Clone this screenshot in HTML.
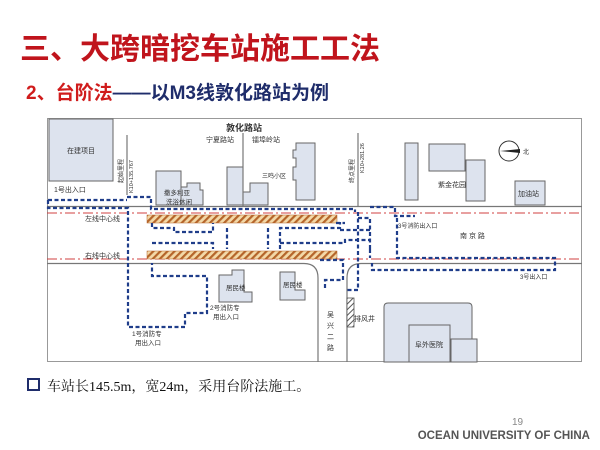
<!DOCTYPE html>
<html><head><meta charset="utf-8"><style>
body{margin:0;background:#fff;width:600px;height:450px;overflow:hidden;position:relative;font-family:"Liberation Sans","Noto Sans CJK SC",sans-serif}
.t1{position:absolute;left:20px;top:24px;font-size:30px;font-weight:bold;color:#c0141c;white-space:nowrap}
.t2{position:absolute;left:26px;top:78px;font-size:19px;font-weight:bold;color:#1f2d6b;white-space:nowrap}
.t2 span{color:#d01c1c}
.b{position:absolute;left:27px;top:376px;font-size:14px;color:#111;font-family:"Liberation Serif","Noto Serif CJK SC",serif;white-space:nowrap}
.b i{display:inline-block;width:9px;height:9px;border:2px solid #1f2d6b;margin-right:7px;vertical-align:0px}
.pg{position:absolute;left:512px;top:417px;font-size:10px;color:#888}
.ou{position:absolute;right:10px;top:430px;font-size:11.5px;font-weight:bold;color:#555;white-space:nowrap}
svg{position:absolute;left:0;top:0}
svg text{font-family:"Liberation Sans","Noto Sans CJK SC",sans-serif;fill:#333}
</style></head><body>
<div class="t1">三、大跨暗挖车站施工工法</div>
<div class="t2"><span>2、台阶法</span>——以M3线敦化路站为例</div>
<svg width="600" height="450" viewBox="0 0 600 450">
<defs><pattern id="h" width="5" height="5" patternUnits="userSpaceOnUse" patternTransform="rotate(45)"><rect width="5" height="5" fill="#f3d9a8"/><rect width="2.2" height="5" fill="#b5652a"/></pattern>
<pattern id="h2" width="4" height="4" patternUnits="userSpaceOnUse" patternTransform="rotate(45)"><rect width="4" height="4" fill="#fff"/><rect width="1" height="4" fill="#555"/></pattern></defs>
<rect x="47.5" y="118.5" width="534" height="243" fill="#fff" stroke="#999" stroke-width="1"/>
<g fill="#dde3ee" stroke="#666" stroke-width="1">
<rect x="49" y="119" width="64" height="62"/>
<rect x="156" y="171" width="25" height="34"/>
<path d="M181,187 H187 V183 H200 V190 H203 V205 H181Z"/>
<rect x="227" y="167" width="16" height="38"/>
<path d="M243,192 H250 V183 H268 V205 H243Z"/>
<path d="M296,143 H315 V200 H296 V180 H293 V167 H296 V158 H293 V150 H296Z"/>
<rect x="405" y="143" width="13" height="57"/>
<rect x="429" y="144" width="36" height="27"/>
<rect x="466" y="160" width="19" height="41"/>
<rect x="515" y="181" width="30" height="24"/>
<path d="M219,275 H232 V270 H244 V292 H252 V302 H219Z"/>
<path d="M280,272 H295 V290 H305 V300 H280Z"/>
<path d="M388,303 H468 Q472,303 472,307 V362 H384 V307 Q384,303 388,303Z"/>
<rect x="409" y="325" width="41" height="37"/>
<rect x="451" y="339" width="26" height="23"/>
</g>
<g stroke="#777" stroke-width="1.2" fill="none">
<path d="M47,206.5 H582 M47,263.5 H304 Q318,263.5 318,278 V362 M347,362 V278 Q347,263.5 361,263.5 H582"/>
<path d="M127,135 V195 M243,133 V207 M358,133 V207"/>
</g>
<g stroke="#d04040" stroke-width="1" stroke-dasharray="10,3,2,3" fill="none">
<path d="M47,213 H582 M47,259 H582"/>
</g>
<rect x="147" y="215" width="190" height="8" fill="url(#h)" stroke="#b5652a" stroke-width="0.5"/>
<rect x="147" y="251" width="190" height="8" fill="url(#h)" stroke="#b5652a" stroke-width="0.5"/>
<rect x="347" y="298" width="7" height="29" fill="url(#h2)" stroke="#555" stroke-width="0.8"/>
<g stroke="#1f3d8a" stroke-width="2.2" stroke-dasharray="4,2.5" fill="none">
<path d="M48,200 H127 M127,197 H151 V209 H355 V212 M48,200 V208 H128 V327 H185 V313 H207 V276 H152 V263"/>
<path d="M152,223 V228 H174 V232 H213 V223"/>
<path d="M227,228 V249 M268,228 V249 M152,243 H213 V249 M280,243 H345 V240 H370"/>
<path d="M280,249 V228 H340 V222 M340,230 H370 M336,223 H345"/>
<path d="M358,212 V290 H345 M358,218 H370 V249"/>
<path d="M370,207 H395 V216 H415 M397,218 V258 H555 V270 H372 V263 M370,249 V258"/>
<path d="M320,260 H343 V280 H325 V290"/>
</g>
<circle cx="509" cy="151" r="10" fill="#fff" stroke="#333" stroke-width="1"/>
<path d="M500,151 L520,149 L520,153Z" fill="#222"/>
<g font-size="7">
<text x="67" y="153">在建项目</text>
<text x="54" y="192">1号出入口</text>
<text x="85" y="221">左线中心线</text>
<text x="85" y="258">右线中心线</text>
<text x="164" y="195" font-size="6.5">撒多利亚</text>
<text x="166" y="204" font-size="6.5">洗浴休闲</text>
<text x="226" y="131" font-size="9" font-weight="bold" fill="#222">敦化路站</text>
<text x="206" y="142">宁夏路站</text>
<text x="252" y="142">镭埠岭站</text>
<text x="262" y="178" font-size="6">三鸣小区</text>
<text x="438" y="187">紫金花园</text>
<text x="518" y="196">加油站</text>
<text x="523" y="154" font-size="6">北</text>
<text x="398" y="228" font-size="6">3号消防出入口</text>
<text x="460" y="238">南 京 路</text>
<text x="520" y="279" font-size="6">3号出入口</text>
<text x="226" y="290" font-size="6.5">居民楼</text>
<text x="283" y="287" font-size="6.5">居民楼</text>
<text x="210" y="310" font-size="6.5">2号消防专</text>
<text x="213" y="319" font-size="6.5">用出入口</text>
<text x="132" y="336" font-size="6.5">1号消防专</text>
<text x="135" y="345" font-size="6.5">用出入口</text>
<text x="354" y="321">排风井</text>
<text x="415" y="347">阜外医院</text>
<text x="327" y="317">吴</text><text x="327" y="328">兴</text><text x="327" y="339">二</text><text x="327" y="350">路</text>
<text transform="translate(123,183) rotate(-90)" font-size="6">起始里程</text>
<text transform="translate(133,193) rotate(-90)" font-size="5.5">K10+135.767</text>
<text transform="translate(354,183) rotate(-90)" font-size="6">终点里程</text>
<text transform="translate(364,173) rotate(-90)" font-size="5.5">K10+281.26</text>
</g>
</svg>
<div class="b"><i></i>车站长145.5m，宽24m，采用台阶法施工。</div>
<div class="pg">19</div>
<div class="ou">OCEAN UNIVERSITY OF CHINA</div>
</body></html>
